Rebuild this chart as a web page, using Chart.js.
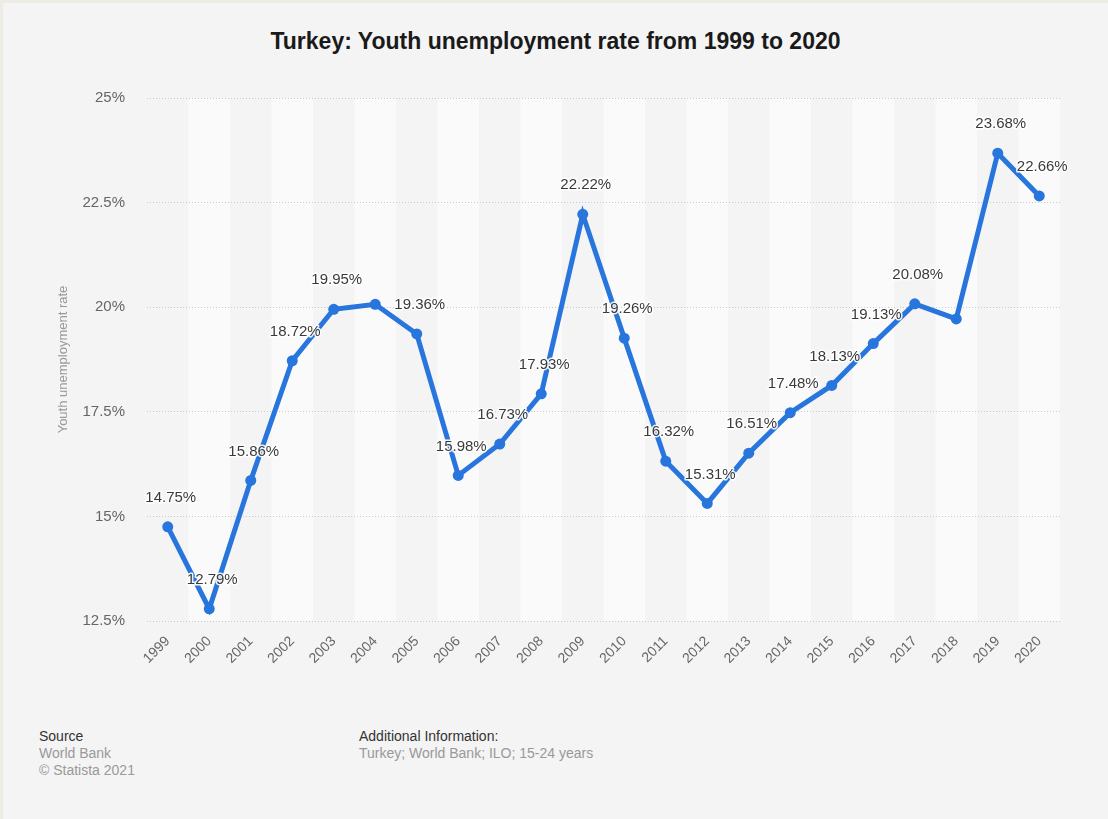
<!DOCTYPE html>
<html>
<head>
<meta charset="utf-8">
<script src="https://cdn.jsdelivr.net/npm/chart.js@4/dist/chart.umd.min.js"></script>
<style>
  body { margin: 0; background: #eeebe5; font-family: "Liberation Sans", Arial, sans-serif; }
  #wrap { position: absolute; left: 3px; top: 3px; width: 1105px; height: 816px; background: #f4f4f4; overflow: hidden; }
  #title { position: absolute; left: 0; width: 1105px; top: 25px; text-align: center; font-size: 23px; line-height: 26px; font-weight: bold; color: #1a1a1a; }
  #chartBox { position: absolute; left: -3px; top: -3px; }
  .foot { position: absolute; font-size: 14px; line-height: 17px; color: #999; }
  .foot b { font-weight: normal; color: #333; }
</style>
</head>
<body>
<div id="wrap">
  <div id="title">Turkey: Youth unemployment rate from 1999 to 2020</div>
  <div id="chartBox"><canvas id="rateChart" width="1108" height="700"></canvas></div>
  <div class="foot" style="left:36px; top:725px;"><b>Source</b><br>World Bank<br>© Statista 2021</div>
  <div class="foot" style="left:356px; top:725px;"><b>Additional Information:</b><br>Turkey; World Bank; ILO; 15-24 years</div>
</div>
<script>
    const years = ['1999', '2000', '2001', '2002', '2003', '2004', '2005', '2006', '2007', '2008', '2009',
                   '2010', '2011', '2012', '2013', '2014', '2015', '2016', '2017', '2018', '2019', '2020'];
    const rates = [14.75, 12.79, 15.86, 18.72, 19.95, 20.07, 19.36, 15.98, 16.73, 17.93, 22.22,
                   19.26, 16.32, 15.31, 16.51, 17.48, 18.13, 19.13, 20.08, 19.72, 23.68, 22.66];
    // years whose value label is left off
    const unlabeledYears = ['2004', '2018'];
    const yTicks = [12.5, 15, 17.5, 20, 22.5, 25];

    const lineBlue = '#2876dd';

    // alternating column shading behind the grid
    const columnBands = {
      id: 'columnBands',
      beforeDraw(chart) {
        const { ctx, chartArea, scales } = chart;
        const step = scales.x.getPixelForValue(1) - scales.x.getPixelForValue(0);
        ctx.save();
        ctx.fillStyle = '#fafafa';
        years.forEach((y, i) => {
          if (i % 2 === 1) {
            const cx = scales.x.getPixelForValue(i);
            ctx.fillRect(cx - step / 2, chartArea.top, step, chartArea.bottom - chartArea.top);
          }
        });
        ctx.restore();
      }
    };

    // value labels above the points, with a light halo
    const pointLabels = {
      id: 'pointLabels',
      afterDatasetsDraw(chart) {
        const { ctx } = chart;
        const meta = chart.getDatasetMeta(0);
        ctx.save();
        ctx.font = '15px "Liberation Sans", Arial, sans-serif';
        ctx.textAlign = 'center';
        ctx.textBaseline = 'middle';
        ctx.lineJoin = 'round';
        meta.data.forEach((pt, i) => {
          if (unlabeledYears.includes(years[i])) return;
          const text = rates[i].toFixed(2) + '%';
          const x = pt.x + 3;
          const y = pt.y - 29;
          ctx.strokeStyle = 'rgba(255,255,255,0.9)';
          ctx.lineWidth = 3;
          ctx.strokeText(text, x, y);
          ctx.fillStyle = '#3a3a3a';
          ctx.fillText(text, x, y);
        });
        ctx.restore();
      }
    };

    const ctx = document.getElementById('rateChart').getContext('2d');
    const chart = new Chart(ctx, {
      type: 'line',
      data: {
        labels: years,
        datasets: [{
          label: 'Youth unemployment rate',
          data: rates,
          borderColor: lineBlue,
          backgroundColor: lineBlue,
          borderWidth: 5,
          pointRadius: 5.5,
          pointHoverRadius: 5.5,
          pointBorderWidth: 0,
          tension: 0,
          fill: false
        }]
      },
      options: {
        responsive: false,
        animation: false,
        devicePixelRatio: 1,
        layout: { padding: { left: 52, right: 48, top: 98, bottom: 19 } },
        plugins: {
          legend: { display: false },
          tooltip: { enabled: false }
        },
        scales: {
          x: {
            offset: true,
            grid: { display: false, drawTicks: false },
            border: { display: false },
            ticks: {
              color: '#666',
              font: { size: 14, family: '"Liberation Sans", Arial, sans-serif' },
              minRotation: 45,
              maxRotation: 45,
              padding: 12,
              autoSkip: false
            },
            afterFit(s) { s.height = 60; }
          },
          y: {
            min: 12.5,
            max: 25,
            afterBuildTicks(s) { s.ticks = yTicks.map(v => ({ value: v })); },
            grid: {
              color: '#c9c9c9',
              lineWidth: 1,
              drawTicks: false
            },
            border: { display: false, dash: [1, 2] },
            ticks: {
              color: '#666',
              font: { size: 15, family: '"Liberation Sans", Arial, sans-serif' },
              padding: 22,
              callback: v => v + '%'
            },
            title: {
              display: true,
              text: 'Youth unemployment rate',
              color: '#999',
              font: { size: 13, family: '"Liberation Sans", Arial, sans-serif' }
            },
            afterFit(s) { s.width = 95; }
          }
        }
      },
      plugins: [columnBands, pointLabels]
    });
</script>
</body>
</html>
